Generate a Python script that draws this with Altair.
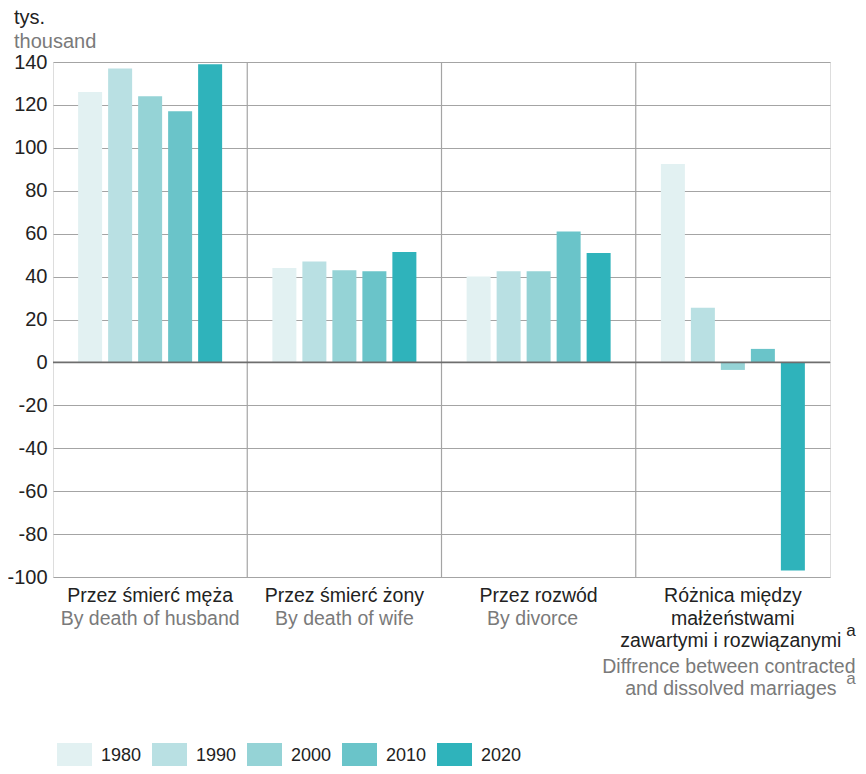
import altair as alt
import pandas as pd

# ---- data ----
categories = [
    "Przez śmierć męża",
    "Przez śmierć żony",
    "Przez rozwód",
    "Różnica między małżeństwami zawartymi i rozwiązanymi",
]
years = ["1980", "1990", "2000", "2010", "2020"]
v1980 = [126, 44, 40, 92.5]
v1990 = [137, 47, 42.5, 25.5]
v2000 = [124, 43, 42.5, -3.5]
v2010 = [117, 42.5, 61, 6.3]
v2020 = [139, 51.5, 51, -97]
colors = ["#e2f1f2", "#b9e0e3", "#95d3d6", "#6ac4c9", "#2fb3bb"]
y_ticks = [-100, -80, -60, -40, -20, 0, 20, 40, 60, 80, 100, 120, 140]

# category label lines: (category index, text, colour kind, line no, dx)
label_lines = [
    (0, "Przez śmierć męża", "pl", 0, 0),
    (0, "By death of husband", "en", 1, 0),
    (1, "Przez śmierć żony", "pl", 0, 0),
    (1, "By death of wife", "en", 1, 0),
    (2, "Przez rozwód", "pl", 0, 0),
    (2, "By divorce", "en", 1, -6),
    (3, "Różnica między", "pl", 0, 0),
    (3, "małżeństwami", "pl", 1, 0),
    (3, "zawartymi i rozwiązanymi", "pl", 2, -2),
    (3, "Diffrence between contracted", "en", 3, -4),
    (3, "and dissolved marriages", "en", 4, -2),
]
superscripts = [(3, "a", "pl", 2), (3, "a", "en", 4)]
unit_pl = "tys."
unit_en = "thousand"

W, H = 777, 515
FONT = "Liberation Sans, Arial, sans-serif"
DARK = "#222222"
GREY = "#7a7a7a"

rows = []
for yr, vals in zip(years, [v1980, v1990, v2000, v2010, v2020]):
    for c, v in zip(categories, vals):
        rows.append({"cat": c, "year": yr, "value": v})
df = pd.DataFrame(rows)

xenc = alt.X("cat:N", sort=categories, axis=None,
             scale=alt.Scale(paddingInner=0, paddingOuter=0))

bars = alt.Chart(df).mark_bar().encode(
    x=xenc,
    xOffset=alt.XOffset("year:N", sort=years,
                        scale=alt.Scale(paddingInner=0.2, paddingOuter=0.8375)),
    y=alt.Y("value:Q",
            scale=alt.Scale(domain=[-100, 140], nice=False, zero=False),
            axis=alt.Axis(values=y_ticks, domain=False, ticks=False,
                          labelExpr="'' + datum.value",
                          labelFontSize=20, labelColor=DARK, labelPadding=6,
                          labelFont=FONT, gridColor="#a4a4a4", gridWidth=1.2,
                          title=None)),
    color=alt.Color("year:N", sort=years,
                    scale=alt.Scale(domain=years, range=colors),
                    legend=alt.Legend(
                        orient="none", legendX=4, legendY=676,
                        direction="horizontal", columns=5, title=None,
                        symbolType="M-1,-0.714L1,-0.714L1,0.714L-1,0.714Z",
                        symbolSize=1225, symbolStrokeWidth=0,
                        labelFont="Liberation Sans Narrow, Liberation Sans, Arial",
                        labelFontSize=18, labelColor=DARK, labelOffset=9,
                        columnPadding=10, labelLimit=100)),
)

zero_rule = alt.Chart(pd.DataFrame({"v": [0]})).mark_rule(
    color="#6e6e6e", strokeWidth=1.6).encode(y=alt.Y("v:Q"))

dividers = alt.Chart(pd.DataFrame({"cat": categories[1:]})).mark_rule(
    color="#a4a4a4", strokeWidth=1.2).encode(
    x=alt.X("cat:N", sort=categories, axis=None, bandPosition=0),
    y=alt.value(0), y2=alt.value(H))

line_y = {0: 534, 1: 557, 2: 579, 3: 605, 4: 627}

layers = [bars, dividers, zero_rule]
for ci, txt, kind, ln, dx in label_lines:
    layers.append(
        alt.Chart(pd.DataFrame({"cat": [categories[ci]]})).mark_text(
            text=txt, font=FONT, fontSize=19.5, dx=dx,
            color=DARK if kind == "pl" else GREY,
            align="center", baseline="middle").encode(
            x=alt.X("cat:N", sort=categories, axis=None), y=alt.value(line_y[ln])))
for ci, txt, kind, ln in superscripts:
    layers.append(
        alt.Chart(pd.DataFrame({"cat": [categories[ci]]})).mark_text(
            text=txt, font=FONT, fontSize=17, dx=118,
            color=DARK if kind == "pl" else GREY,
            align="center", baseline="middle").encode(
            x=alt.X("cat:N", sort=categories, axis=None),
            y=alt.value(line_y[ln] - 10)))

# unit labels above the y axis
for txt, col, ypos in [(unit_pl, DARK, -44), (unit_en, GREY, -20)]:
    layers.append(
        alt.Chart(pd.DataFrame({"t": [txt]})).mark_text(
            font=FONT, fontSize=20, color=col, align="left",
            baseline="middle").encode(
            text="t:N", x=alt.value(-39), y=alt.value(ypos)))

chart = alt.layer(*layers).properties(
    width=W, height=H,
    autosize=alt.AutoSizeParams(type="none"),
    padding={"left": 45, "top": 54, "right": 28, "bottom": 189},
).configure_view(stroke=None).configure(font=FONT)

chart.save("out.html", embed_options={"renderer": "svg", "actions": False})
